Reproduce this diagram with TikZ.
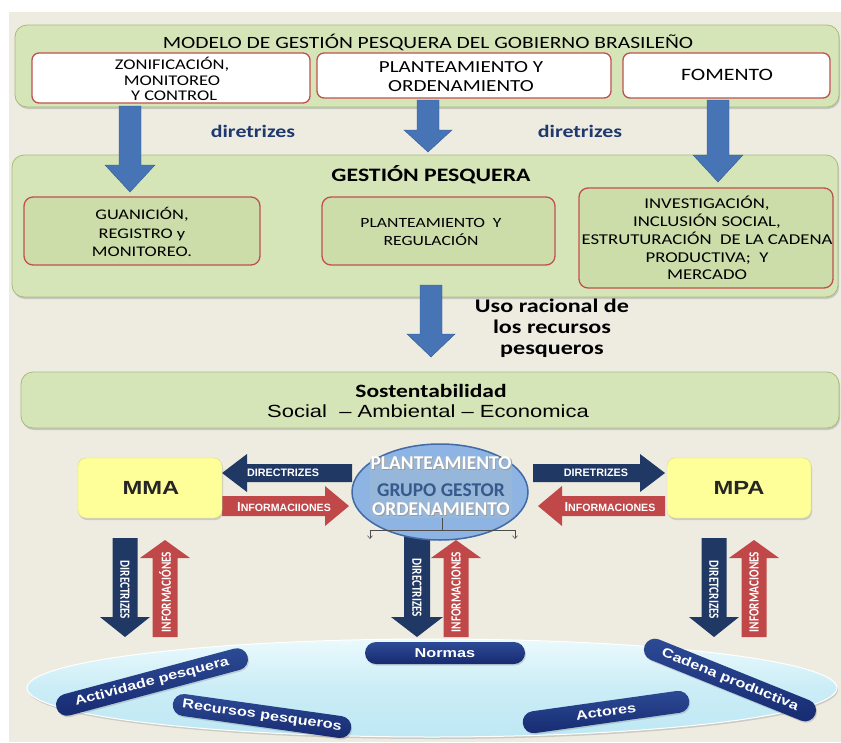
\documentclass[tikz,border=0pt]{standalone}
\usepackage{fontspec}
\setmainfont[FakeStretch=1.25]{Carlito}
\newfontfamily\carl{Carlito}
\newfontfamily\carlnar[FakeStretch=0.8]{Carlito}
\newfontfamily\arialf{Liberation Sans}
\newfontfamily\arialw[FakeStretch=1.25]{Liberation Sans}
\usetikzlibrary{shapes.geometric,shadows,arrows.meta}
\definecolor{bgbeige}{RGB}{238,236,225}
\definecolor{gfill}{RGB}{214,229,184}
\definecolor{gfillD}{RGB}{204,221,170}
\definecolor{gborder}{RGB}{165,188,125}
\definecolor{redb}{RGB}{192,80,77}
\definecolor{barrow}{RGB}{70,116,180}
\definecolor{barrowD}{RGB}{50,90,150}
\definecolor{navy}{RGB}{31,56,100}
\definecolor{navyt}{RGB}{31,56,110}
\definecolor{redarrow}{RGB}{192,72,72}
\definecolor{yel}{RGB}{255,255,153}
\definecolor{ellblue}{RGB}{141,180,226}
\definecolor{ellborder}{RGB}{65,105,165}
\definecolor{innerrect}{RGB}{150,182,218}
\definecolor{cyanL}{RGB}{235,250,253}
\definecolor{cyanD}{RGB}{190,232,244}
\definecolor{pill}{RGB}{22,42,112}
\definecolor{pillL}{RGB}{45,75,150}
\definecolor{ggtext}{RGB}{55,90,140}
\newcommand\blockarr[8]{%
  \path[#1,shift={(#2,#3)},rotate=#4] (0,-#6) -- ({#5-#8},-#6) -- ({#5-#8},-#7) -- (#5,0) -- ({#5-#8},#7) -- ({#5-#8},#6) -- (0,#6) -- cycle;}
\tikzset{
  greenbox/.style={draw=gborder, line width=0.8pt, fill=gfill, rounded corners=12pt, inner sep=0pt,
    drop shadow={opacity=0.35,shadow xshift=1pt,shadow yshift=-2pt}},
  whitebox/.style={draw=redb, line width=1.3pt, fill=white, rounded corners=7pt, inner sep=0pt},
  innergreen/.style={draw=redb, line width=1.3pt, fill=gfillD, rounded corners=9pt, inner sep=0pt},
  yelbox/.style={fill=yel, draw=yel!85!black, line width=0.4pt, rounded corners=8pt, inner sep=0pt,
    minimum width=144pt, minimum height=60pt,
    drop shadow={opacity=0.3,shadow xshift=1pt,shadow yshift=-2pt}},
  bluearr/.style={fill=barrow, draw=barrowD, line width=0.4pt},
  navyarr/.style={fill=navy},
  redarr/.style={fill=redarrow},
  txt/.style={inner sep=0pt, align=center},
  harrtxt/.style={inner sep=0pt, text=white, font=\arialf\bfseries\fontsize{10.8}{11}\selectfont},
  varrtxt/.style={inner sep=0pt, text=white, font=\carlnar\bfseries\fontsize{14}{14}\selectfont},
  pillnode/.style={top color=pillL, bottom color=pill, text=white, rounded corners=11pt,
    minimum height=22pt, inner sep=0pt, font=\arialw\bfseries\fontsize{13}{14}\selectfont,
    drop shadow={opacity=0.3,shadow xshift=1pt,shadow yshift=-1.5pt}},
  thinline/.style={draw=black!70, line width=0.5pt},
  tip/.style={-{Straight Barb[length=3pt,width=5pt]}}
}
\begin{document}
\begin{tikzpicture}[x=1pt,y=-1pt]
\useasboundingbox (0,0) rectangle (841,742);
\fill[white] (0,0) rectangle (841,742);
\fill[bgbeige] (9,12) rectangle (841,742);

% ---------- top model box ----------
\node[greenbox, minimum width=824pt, minimum height=82pt] (model) at (427,66) {};
\node[txt, font=\fontsize{17.2}{19}\selectfont] (modeltitle) at (428,42) {MODELO DE GESTIÓN PESQUERA DEL GOBIERNO BRASILEÑO};
\node[whitebox, minimum width=278pt, minimum height=50pt] (zon) at (171,78) {};
\node[txt, font=\fontsize{14.8}{15.5}\selectfont] (zont) at (172,79) {ZONIFICACIÓN,\\MONITOREO\\\ Y CONTROL};
\node[whitebox, minimum width=294pt, minimum height=45pt] (plan) at (464,75.5) {};
\node[txt, font=\fontsize{16.9}{19}\selectfont] (plant) at (461,77) {PLANTEAMIENTO Y\\ORDENAMIENTO};
\node[whitebox, minimum width=207pt, minimum height=45pt] (fom) at (726.5,75.5) {};
\node[txt, font=\fontsize{17.4}{19}\selectfont] (fomt) at (727,75) {FOMENTO};

% ---------- gestion box ----------
\node[greenbox, minimum width=826pt, minimum height=142pt] (gest) at (425,226) {};
\node[txt, font=\bfseries\fontsize{19}{20}\selectfont] (gestt) at (431,175) {GESTIÓN PESQUERA};
\node[innergreen, minimum width=236pt, minimum height=68pt] (g1) at (142,231) {};
\node[txt, font=\fontsize{14.7}{18.5}\selectfont] (g1t) at (142,232) {GUANICIÓN,\\REGISTRO y\\MONITOREO.};
\node[innergreen, minimum width=233pt, minimum height=68pt] (g2) at (438.5,231) {};
\node[txt, font=\fontsize{14.1}{18.5}\selectfont] (g2t) at (431,232) {PLANTEAMIENTO\ \ Y\\REGULACIÓN};
\node[innergreen, minimum width=254pt, minimum height=100pt] (g3) at (706,238) {};
\node[txt, font=\fontsize{15}{17.8}\selectfont] (g3t) at (707,238) {INVESTIGACIÓN,\\INCLUSIÓN SOCIAL,\\ESTRUTURACIÓN\ \ DE LA CADENA\\PRODUCTIVA;\ \ Y\\MERCADO};

% ---------- blue arrows ----------
\blockarr{bluearr}{130}{106}{-90}{86}{11}{25}{27}
\blockarr{bluearr}{428}{100}{-90}{52}{11}{24}{22}
\blockarr{bluearr}{718}{100}{-90}{82}{11}{25}{27}
\blockarr{bluearr}{431}{285}{-90}{72}{11}{24}{23}
\node[txt, text=navyt, font=\bfseries\fontsize{17.5}{18}\selectfont] (dir1) at (253,131) {diretrizes};
\node[txt, text=navyt, font=\bfseries\fontsize{17.5}{18}\selectfont] (dir2) at (580,131) {diretrizes};
\node[txt, font=\bfseries\fontsize{19.3}{21}\selectfont] (uso) at (552,328) {Uso racional de\\los recursos\\pesqueros};

% ---------- sostentabilidad ----------
\node[greenbox, minimum width=818pt, minimum height=56pt] (sost) at (430,400) {};
\node[txt, font=\bfseries\fontsize{18.8}{20}\selectfont] (sostt) at (431,391) {Sostentabilidad};
\node[txt, font=\arialw\fontsize{17.6}{19}\selectfont] (sostt2) at (428,411) {Social\ \ – Ambiental – Economica};

% ---------- horizontal arrows ----------
\blockarr{navyarr}{352}{473}{180}{130}{9}{19}{25}
\blockarr{redarr}{222}{506}{0}{127}{10}{20}{24}
\blockarr{navyarr}{533}{473}{0}{132}{9}{19}{25}
\blockarr{redarr}{665}{506}{180}{127}{10}{20}{24}
\node[harrtxt] (h1) at (283,473) {DIRECTRIZES};
\node[harrtxt] (h2) at (284,507) {{\fontsize{13}{13}\selectfont I}{\fontsize{10.6}{11}\selectfont NFORMACIIONES}};
\node[harrtxt] (h3) at (596,473) {DIRETRIZES};
\node[harrtxt] (h4) at (610,507) {{\fontsize{13}{13}\selectfont I}{\fontsize{10.6}{11}\selectfont NFORMACIONES}};

% ---------- MMA / MPA ----------
\node[yelbox] (mma) at (150,488) {};
\node[txt, text=black!85, font=\arialw\bfseries\fontsize{19}{20}\selectfont] (mmat) at (151,488) {MMA};
\node[yelbox] (mpa) at (739,488) {};
\node[txt, text=black!85, font=\arialw\bfseries\fontsize{19}{20}\selectfont] (mpat) at (739,488) {MPA};

% ---------- vertical arrows ----------
\blockarr{navyarr}{125}{538}{-90}{99}{12.5}{25}{20}
\blockarr{redarr}{165}{637}{90}{97}{12.5}{25}{18}
\blockarr{navyarr}{417}{528}{-90}{109}{13}{26}{20}
\blockarr{redarr}{456}{637}{90}{97}{12.5}{25}{18}
\blockarr{navyarr}{714}{538}{-90}{99}{12.5}{25}{20}
\blockarr{redarr}{754}{637}{90}{97}{12.5}{25}{18}
\node[varrtxt, rotate=-90] (v1) at (125,590) {DIRECTRIZES};
\node[varrtxt, rotate=90] (v2) at (165,592) {INFORMACIÓNES};
\node[varrtxt, rotate=-90] (v3) at (417,588) {DIRECTRIZES};
\node[varrtxt, rotate=90] (v4) at (456,592) {INFORMACIONES};
\node[varrtxt, rotate=-90] (v5) at (714,590) {DIRETCRIZES};
\node[varrtxt, rotate=90] (v6) at (754,592) {INFORMACIONES};

% ---------- grupo gestor ellipse ----------
\node[ellipse, minimum width=176pt, minimum height=96pt, fill=ellblue, draw=ellborder, line width=1.5pt] (gg) at (440,492) {};
\node[fill=innerrect, rounded corners=3pt, minimum width=142pt, minimum height=60pt, inner sep=0pt] (ggr) at (441,488) {};
\node[txt, text=black!40, font=\carl\bfseries\fontsize{19.5}{20}\selectfont] (p1s) at (441.8,463.8) {PLANTEAMIENTO};
\node[txt, text=white, font=\carl\bfseries\fontsize{19.5}{20}\selectfont] (p1) at (441,463) {PLANTEAMIENTO};
\node[txt, text=ggtext, font=\carl\bfseries\fontsize{19.5}{20}\selectfont] (p2) at (441,490) {GRUPO GESTOR};
\node[txt, text=black!40, font=\carl\bfseries\fontsize{19.5}{20}\selectfont] (p3s) at (441.8,509.8) {ORDENAMIENTO};
\node[txt, text=white, font=\carl\bfseries\fontsize{19.5}{20}\selectfont] (p3) at (441,509) {ORDENAMIENTO};
\coordinate (c0) at (442,518);
\coordinate (c1) at (442,530);
\coordinate (cl) at (370,530);
\coordinate (cr) at (515,530);
\coordinate (cld) at (370,539);
\coordinate (crd) at (515,539);
\draw[thinline] (c0) -- (c1);
\draw[thinline] (cl) -- (cr);
\draw[thinline, tip] (cl) -- (cld);
\draw[thinline, tip] (cr) -- (crd);

% ---------- bottom ellipse ----------
\node[ellipse, minimum width=810pt, minimum height=98pt, top color=cyanL, bottom color=cyanD, middle color=cyanD!80, draw=white, line width=1pt,
  drop shadow={opacity=0.3,shadow xshift=1pt,shadow yshift=-2pt}] (base) at (432,688) {};
\node[pillnode, minimum width=160pt] (normas) at (445,653) {Normas};
\node[pillnode, minimum width=198pt, rotate=15] (activ) at (152,682) {Actividade pesquera};
\node[pillnode, minimum width=180pt, rotate=-8] (recur) at (262,716) {Recursos pesqueros};
\node[pillnode, minimum width=168pt, rotate=8] (actor) at (606,712) {Actores};
\node[pillnode, minimum width=184pt, rotate=-22] (cadena) at (730,680) {Cadena productiva};
\end{tikzpicture}
\end{document}
